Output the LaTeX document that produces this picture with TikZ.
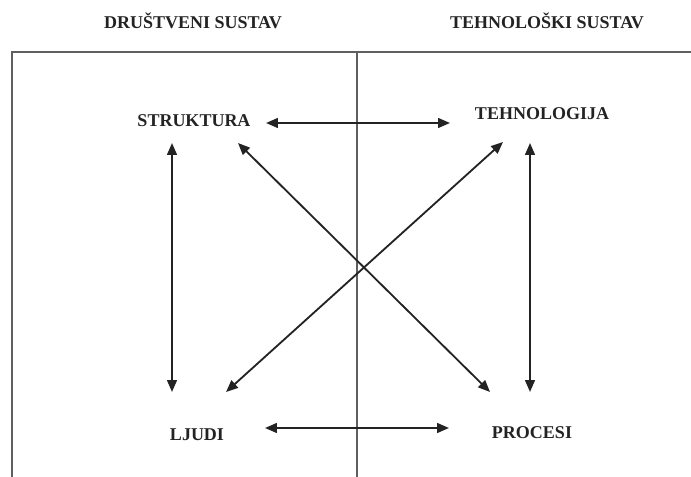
\documentclass[tikz,border=0pt]{standalone}
\usepackage{fontspec}
\setmainfont{Liberation Serif}
\usepackage{tikz}
\usepackage{xcolor}
\usetikzlibrary{arrows.meta}
\definecolor{mygray}{RGB}{95, 95, 95}
\definecolor{mydark}{RGB}{35, 35, 35}

\begin{document}
\begin{tikzpicture}[x=0.025cm,y=-0.025cm,
    lbl/.style={inner sep=0pt,font=\fontsize{12.8}{15}\selectfont\bfseries,text=mydark},
    arr/.style={{Triangle[length=8.5pt,width=7pt]}-{Triangle[length=8.5pt,width=7pt]},line width=1.3pt,mydark},
    frame/.style={line width=1.2pt,mygray}]
        \useasboundingbox (0,0) rectangle (691,477);
        % okvir
        \draw[frame](12,477)--(12,52)--(691,52);
        \draw[frame](357,52)--(357,477);
        % naslovi
        \node[lbl] (drustveni) at (193,21) {DRUŠTVENI SUSTAV};
        \node[lbl] (tehnoloski) at (547,21) {TEHNOLOŠKI SUSTAV};
        % elementi
        \node[lbl] (struktura) at (194,121) {STRUKTURA};
        \node[lbl] (tehnologija) at (542,114) {TEHNOLOGIJA};
        \node[lbl] (ljudi) at (197,435) {LJUDI};
        \node[lbl] (procesi) at (532,433) {PROCESI};
        % veze
        \draw[arr]([shift={(72,2)}]struktura.center)--([shift={(-92,9)}]tehnologija.center);
        \draw[arr]([shift={(68,-7)}]ljudi.center)--([shift={(-83,-5)}]procesi.center);
        \draw[arr]([shift={(-22,22)}]struktura.center)--([shift={(-25,-43)}]ljudi.center);
        \draw[arr]([shift={(-12,29)}]tehnologija.center)--([shift={(-2,-41)}]procesi.center);
        \draw[arr]([shift={(44,22)}]struktura.center)--([shift={(-42,-41)}]procesi.center);
        \draw[arr]([shift={(29,-43)}]ljudi.center)--([shift={(-39,28)}]tehnologija.center);
      \end{tikzpicture}
\end{document}
